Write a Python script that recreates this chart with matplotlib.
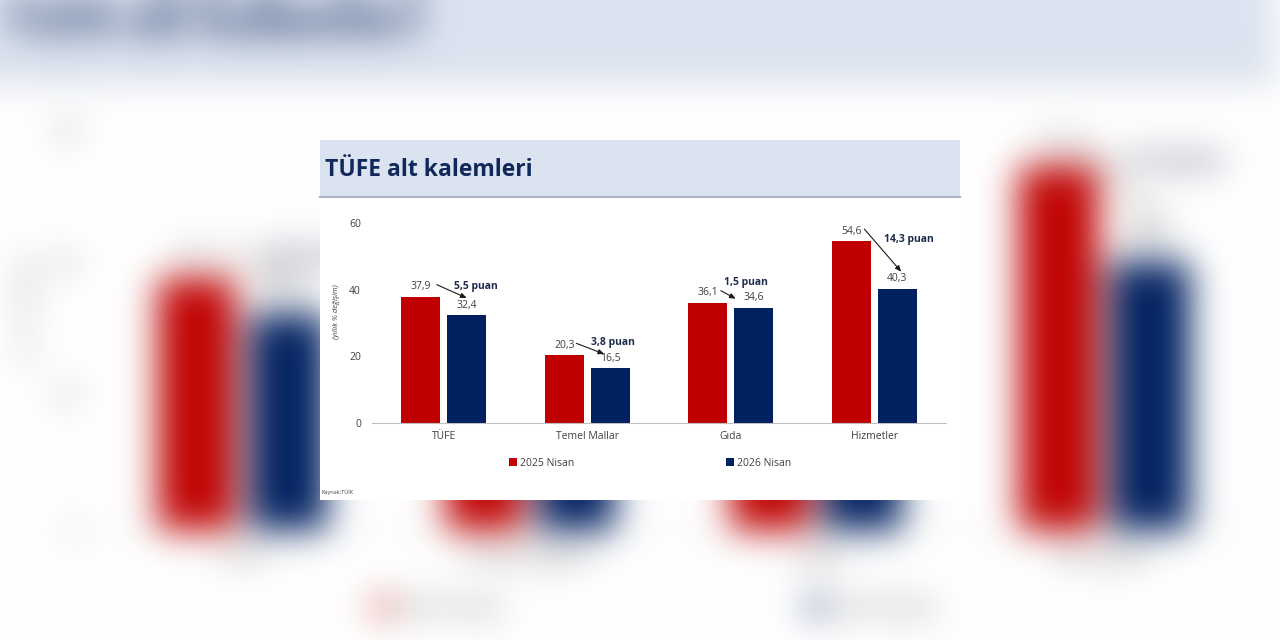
import numpy as np
import matplotlib
matplotlib.use("Agg")
import matplotlib.pyplot as plt
from matplotlib.patches import Rectangle, Patch
from matplotlib.lines import Line2D

plt.rcParams['font.family'] = ['Open Sans', 'DejaVu Sans']

categories = ["TÜFE", "Temel Mallar", "Gıda", "Hizmetler"]
nisan_2025 = [37.9, 20.3, 36.1, 54.6]
nisan_2026 = [32.4, 16.5, 34.6, 40.3]
series_names = ["2025 Nisan", "2026 Nisan"]
y_ticks = [0, 20, 40, 60]

RED = "#c00000"
NAVY = "#002060"
W, H = 1280, 640

def fx(px):
    return px / W

def fy(py):
    return 1 - py / H

def fmt(v):
    return f"{v:.1f}".replace(".", ",")

fig = plt.figure(figsize=(12.8, 6.4), dpi=100)
fig.patch.set_facecolor("white")

# inner panel (the actual chart card)
fig.add_artist(Rectangle((fx(320), fy(500)), 640 / W, 360 / H, transform=fig.transFigure,
                         facecolor="white", edgecolor="none", zorder=0))
fig.add_artist(Rectangle((fx(320), fy(197)), 640 / W, 57 / H, transform=fig.transFigure,
                         facecolor="#dce3f0", edgecolor="none", zorder=0.5))
fig.add_artist(Line2D([fx(320), fx(960)], [fy(197), fy(197)], transform=fig.transFigure,
                      color="#a9b3c3", lw=1.5, zorder=0.6))
fig.text(fx(325), fy(170), "TÜFE alt kalemleri", fontsize=16.5, fontweight="bold",
         color="#10295a", va="center", ha="left")

ax = fig.add_axes([fx(372), fy(423), 574 / W, 200 / H])
ax.set_facecolor("none")
x = np.arange(len(categories))
off, bw = 0.16, 0.27
ax.bar(x - off, nisan_2025, bw, color=RED, zorder=2)
ax.bar(x + off, nisan_2026, bw, color=NAVY, zorder=2)
ax.set_xlim(-0.5, len(categories) - 0.5)
ax.set_ylim(0, 60)
ax.set_yticks(y_ticks)
ax.set_xticks(x)
ax.set_xticklabels(categories)
for s in ["top", "right", "left"]:
    ax.spines[s].set_visible(False)
ax.spines["bottom"].set_color("#bfbfbf")
ax.tick_params(axis="y", length=0, pad=8, labelsize=7.5, labelcolor="#404040")
ax.tick_params(axis="x", length=0, pad=6, labelsize=7.5, labelcolor="#404040")

# value labels
for i in range(len(categories)):
    ax.annotate(fmt(nisan_2025[i]), (x[i] - off, nisan_2025[i]), xytext=(0, 3),
                textcoords="offset points", ha="center", va="bottom", fontsize=7.5, color="#404040")
    ax.annotate(fmt(nisan_2026[i]), (x[i] + off, nisan_2026[i]), xytext=(0, 3),
                textcoords="offset points", ha="center", va="bottom", fontsize=7.5, color="#404040")

# arrows + "puan" labels (pixel offsets, style only)
px_x = 574 / len(categories)
px_y = 200 / 60
arrow_start = [(16, 12), (12, 12), (13, 12), (13, 12)]   # from red bar center/top
arrow_end = [(0, 17), (-6, 14), (-18, 9), (4, 17)]       # from navy bar center/top
puan_pos = [(9, 28), (3, 26), (-8, 25), (12, 49)]
for i in range(len(categories)):
    sx = x[i] - off + arrow_start[i][0] / px_x
    sy = nisan_2025[i] + arrow_start[i][1] / px_y
    ex = x[i] + off + arrow_end[i][0] / px_x
    ey = nisan_2026[i] + arrow_end[i][1] / px_y
    ax.annotate("", xy=(ex, ey), xytext=(sx, sy),
                arrowprops=dict(arrowstyle="-|>,head_length=0.35,head_width=0.15",
                                color="#1a1a1a", lw=0.8, shrinkA=0, shrinkB=0))
    diff = nisan_2025[i] - nisan_2026[i]
    ax.text(x[i] + off + puan_pos[i][0] / px_x, nisan_2026[i] + puan_pos[i][1] / px_y,
            f"{fmt(diff)} puan", ha="center", va="center", fontsize=7.5,
            fontweight="bold", color="#1f2d4d")

handles = [Patch(facecolor=RED), Patch(facecolor=NAVY)]
ax.legend(handles, series_names, ncol=2, loc="center", bbox_to_anchor=((650 - 372) / 574, -0.2),
          frameon=False, fontsize=7.5, handlelength=0.8, handleheight=0.8,
          handletextpad=0.3, columnspacing=14.5, labelcolor="#404040")

fig.text(fx(337), fy(312), "(yıllık % değişim)", rotation=90, fontsize=5.5, style="italic",
         color="#404040", ha="center", va="center")
fig.text(fx(322), fy(492), "Kaynak:TÜİK", fontsize=4, color="#404040", va="center")

# blurred, zoomed copy of the card as backdrop
fig.canvas.draw()
src = np.asarray(fig.canvas.buffer_rgba())[:, :, :3].astype(float) / 255
h, w = src.shape[:2]
cx, cy, zoom = 644, 316, 2.0
yy, xx = np.mgrid[0:h, 0:w]
sy_idx = np.clip(np.round(cy + (yy - cy) / zoom).astype(int), 0, h - 1)
sx_idx = np.clip(np.round(cx + (xx - cx) / zoom).astype(int), 0, w - 1)
big = src[sy_idx, sx_idx]


def blur(a, s):
    r = int(3 * s)
    k = np.exp(-0.5 * (np.arange(-r, r + 1) / s) ** 2)
    k /= k.sum()
    for axis in (0, 1):
        pad = [(0, 0)] * 3
        pad[axis] = (r, r)
        p = np.pad(a, pad, mode="edge")
        out = np.zeros_like(a)
        n = a.shape[axis]
        for i, wgt in enumerate(k):
            sl = [slice(None)] * 3
            sl[axis] = slice(i, i + n)
            out += wgt * p[tuple(sl)]
        a = out
    return a


bg = np.clip(blur(big, 18), 0, 1)
bgax = fig.add_axes([0, 0, 1, 1], zorder=-10)
bgax.imshow(bg, aspect="auto")
bgax.axis("off")

fig.savefig("out.png", dpi=100)
